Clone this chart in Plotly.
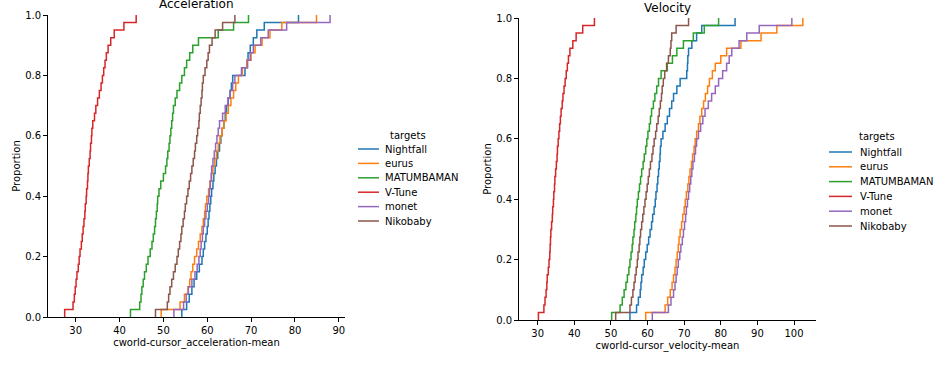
import plotly.graph_objects as go

targets = ["Nightfall", "eurus", "MATUMBAMAN", "V-Tune", "monet", "Nikobaby"]
colors = ["#1f77b4", "#ff7f0e", "#2ca02c", "#d62728", "#9467bd", "#8c564b"]

# cworld-cursor_acceleration-mean samples
acc_nightfall = [54.2, 55.3, 55.9, 56.5, 57.0, 57.6, 58.2, 58.8, 59.1, 59.4,
                 59.7, 60.0, 60.2, 60.4, 60.6, 60.8, 61.0, 61.3, 61.5, 61.8,
                 62.1, 62.4, 62.8, 63.1, 63.4, 63.8, 64.1, 64.4, 64.8, 65.2,
                 65.5, 65.8, 68.6, 69.0, 69.3, 69.8, 70.5, 71.3, 73.0, 80.8]
acc_eurus = [49.5, 53.8, 54.8, 55.6, 56.0, 56.3, 56.7, 57.1, 57.6, 58.0,
             58.4, 58.8, 59.1, 59.4, 59.6, 59.9, 60.3, 60.6, 61.0, 61.3,
             61.7, 62.1, 62.5, 62.9, 63.4, 63.8, 64.3, 64.8, 65.4, 66.0,
             66.5, 67.1, 68.0, 69.0, 70.0, 70.9, 72.5, 74.3, 77.0, 84.9]
acc_matumbaman = [42.5, 44.6, 44.9, 45.1, 45.4, 45.7, 46.1, 46.5, 47.0, 47.4,
                  47.7, 48.0, 48.2, 48.4, 48.6, 48.7, 49.0, 49.4, 50.0, 50.5,
                  50.8, 51.0, 51.3, 51.5, 51.7, 51.9, 52.1, 52.3, 52.7, 53.1,
                  53.7, 54.2, 54.8, 55.3, 56.0, 56.7, 58.0, 62.5, 66.0, 69.4]
acc_vtune = [27.5, 29.4, 29.7, 29.9, 30.1, 30.3, 30.6, 30.8, 31.0, 31.3,
             31.5, 31.7, 31.9, 32.1, 32.2, 32.4, 32.5, 32.7, 32.8, 32.9,
             33.1, 33.3, 33.4, 33.6, 33.7, 33.9, 34.3, 34.6, 35.0, 35.4,
             35.8, 36.1, 36.4, 36.7, 37.0, 37.4, 38.0, 38.8, 41.0, 43.8]
acc_monet = [52.4, 54.6, 55.2, 55.7, 56.5, 57.2, 57.7, 58.1, 58.4, 58.6,
             58.9, 59.1, 59.4, 59.7, 60.0, 60.3, 60.5, 60.7, 60.9, 61.0,
             61.3, 61.6, 61.9, 62.2, 62.5, 62.8, 63.5, 64.1, 64.7, 65.2,
             65.8, 66.3, 67.8, 69.2, 69.8, 70.5, 72.2, 73.9, 78.1, 88.0]
acc_nikobaby = [48.2, 50.9, 51.2, 51.5, 51.9, 52.3, 52.7, 53.1, 53.4, 53.7,
                54.0, 54.2, 54.5, 54.8, 55.0, 55.3, 55.6, 55.9, 56.2, 56.5,
                56.8, 57.1, 57.3, 57.6, 57.8, 58.1, 58.2, 58.4, 58.6, 58.8,
                58.9, 59.1, 59.5, 59.9, 60.2, 60.5, 61.1, 61.8, 63.5, 66.3]

# cworld-cursor_velocity-mean samples
vel_nightfall = [55.2, 57.0, 57.5, 58.0, 58.2, 58.4, 58.8, 59.1, 59.5, 59.9,
                 60.3, 60.7, 61.1, 61.4, 61.8, 62.1, 62.3, 62.6, 62.8, 63.0,
                 63.2, 63.4, 63.5, 63.7, 64.2, 64.8, 65.4, 66.0, 66.6, 67.1,
                 68.0, 68.9, 70.7, 70.9, 71.0, 71.2, 72.1, 73.4, 74.8, 83.9]
vel_eurus = [59.5, 64.8, 65.5, 66.2, 66.7, 67.1, 67.5, 67.8, 68.1, 68.4,
             68.6, 68.9, 69.3, 69.6, 70.0, 70.3, 70.6, 71.0, 71.3, 71.6,
             72.0, 72.3, 72.7, 73.0, 73.4, 73.9, 74.3, 74.8, 75.3, 75.8,
             76.4, 76.9, 77.7, 78.5, 80.0, 81.6, 85.5, 91.0, 95.3, 102.4]
vel_matumbaman = [50.2, 52.5, 53.1, 53.6, 54.1, 54.5, 54.9, 55.2, 55.5, 55.8,
                  56.0, 56.3, 56.5, 56.8, 57.0, 57.2, 57.5, 57.8, 58.1, 58.4,
                  58.8, 59.1, 59.5, 59.8, 60.1, 60.5, 60.8, 61.1, 61.6, 62.0,
                  62.5, 63.0, 63.7, 65.4, 66.8, 68.0, 69.8, 72.5, 75.5, 79.4]
vel_vtune = [30.2, 31.7, 32.0, 32.3, 32.5, 32.6, 32.9, 33.1, 33.3, 33.4,
             33.5, 33.6, 33.8, 34.0, 34.1, 34.3, 34.4, 34.6, 34.7, 34.9,
             35.1, 35.3, 35.4, 35.6, 35.8, 36.0, 36.2, 36.4, 36.7, 36.9,
             37.2, 37.5, 37.8, 38.1, 38.4, 38.8, 39.6, 40.5, 42.3, 45.5]
vel_monet = [61.3, 65.7, 66.4, 67.1, 67.5, 67.8, 68.1, 68.4, 68.8, 69.1,
             69.5, 69.8, 70.1, 70.4, 70.6, 70.9, 71.2, 71.5, 71.8, 72.1,
             72.4, 72.8, 73.1, 73.4, 73.9, 74.5, 75.1, 75.7, 76.6, 77.5,
             78.5, 79.4, 80.5, 81.6, 82.3, 83.0, 85.0, 87.1, 90.5, 99.4]
vel_nikobaby = [51.3, 55.2, 55.6, 56.0, 56.3, 56.6, 56.9, 57.2, 57.4, 57.7,
                57.9, 58.1, 58.4, 58.7, 59.0, 59.3, 59.6, 59.9, 60.2, 60.5,
                60.8, 61.2, 61.5, 61.8, 62.2, 62.5, 62.9, 63.2, 63.5, 63.8,
                64.0, 64.3, 64.7, 65.2, 65.7, 66.2, 66.4, 66.6, 67.8, 71.2]

acc_data = [acc_nightfall, acc_eurus, acc_matumbaman, acc_vtune, acc_monet, acc_nikobaby]
vel_data = [vel_nightfall, vel_eurus, vel_matumbaman, vel_vtune, vel_monet, vel_nikobaby]

FONT = "DejaVu Sans"
W, H = 951, 367


def ecdf(values):
    xs = sorted(values)
    n = len(xs)
    x = [xs[0]] + xs
    y = [0.0] + [(i + 1) / n for i in range(n)]
    return x, y


fig = go.Figure()
for data, xa, ya in [(acc_data, "x", "y"), (vel_data, "x2", "y2")]:
    for name, vals, col in zip(targets, data, colors):
        x, y = ecdf(vals)
        fig.add_trace(go.Scatter(
            x=x, y=y, mode="lines", name=name,
            line=dict(color=col, width=1.5, shape="hv"),
            xaxis=xa, yaxis=ya, showlegend=False,
        ))

axis_common = dict(
    showgrid=False, zeroline=False, showline=True, linecolor="black", linewidth=0.8,
    ticks="outside", ticklen=4, tickwidth=0.8, tickcolor="black", automargin=False,
    tickfont=dict(family=FONT, size=10, color="black"), mirror=False,
)

# Legend blocks (one per panel), drawn in paper coordinates from the target/colour lists
shapes = []
annotations = []
legend_specs = [
    # title centre x, title y, line x0, line x1, text x, first row y, row step (pixels)
    (408, 135, 358, 379, 383, 149, 14.4),
    (877, 137, 829, 852, 858, 152, 14.8),
]
for tcx, tty, lx0, lx1, tx, ry0, step in legend_specs:
    annotations.append(dict(text="targets", x=tcx / W, y=(H - tty) / H, xref="paper", yref="paper",
                            xanchor="center", yanchor="middle", showarrow=False,
                            font=dict(size=10, family=FONT, color="black")))
    for i, (name, col) in enumerate(zip(targets, colors)):
        yy = (H - (ry0 + i * step)) / H
        shapes.append(dict(type="line", xref="paper", yref="paper", x0=lx0 / W, x1=lx1 / W,
                           y0=yy, y1=yy, line=dict(color=col, width=1.5)))
        annotations.append(dict(text=name, x=tx / W, y=yy, xref="paper", yref="paper",
                                xanchor="left", yanchor="middle", showarrow=False,
                                font=dict(size=10, family=FONT, color="black")))

annotations += [
    dict(text="Acceleration", x=196 / W, y=(H - 4) / H, xref="paper", yref="paper",
         xanchor="center", yanchor="middle", showarrow=False, font=dict(size=12, family=FONT)),
    dict(text="Velocity", x=667 / W, y=(H - 7.5) / H, xref="paper", yref="paper",
         xanchor="center", yanchor="middle", showarrow=False, font=dict(size=12, family=FONT)),
]

fig.update_layout(
    width=W, height=H,
    template="none",
    margin=dict(l=0, r=0, t=0, b=0, autoexpand=False),
    paper_bgcolor="white", plot_bgcolor="white",
    font=dict(family=FONT, size=10, color="black"),
    showlegend=False,
    xaxis=dict(domain=[48 / W, 345 / W], range=[23.7, 91.4], dtick=10, anchor="y",
               title=dict(text="cworld-cursor_acceleration-mean", font=dict(size=10), standoff=4),
               **axis_common),
    yaxis=dict(domain=[(H - 317) / H, (H - 15) / H], range=[0, 1], dtick=0.2, tickformat=".1f",
               anchor="x", title=dict(text="Proportion", font=dict(size=10), standoff=2),
               **axis_common),
    xaxis2=dict(domain=[519 / W, 816 / W], range=[24.9, 106], dtick=10, anchor="y2",
                title=dict(text="cworld-cursor_velocity-mean", font=dict(size=10), standoff=4),
                **axis_common),
    yaxis2=dict(domain=[(H - 320) / H, (H - 18) / H], range=[0, 1], dtick=0.2, tickformat=".1f",
                anchor="x2", title=dict(text="Proportion", font=dict(size=10), standoff=2),
                **axis_common),
    shapes=shapes,
    annotations=annotations,
)

fig.write_html("out.html", config={"displayModeBar": False},
               post_script="document.body.style.margin='0px';document.body.style.overflow='hidden';")
